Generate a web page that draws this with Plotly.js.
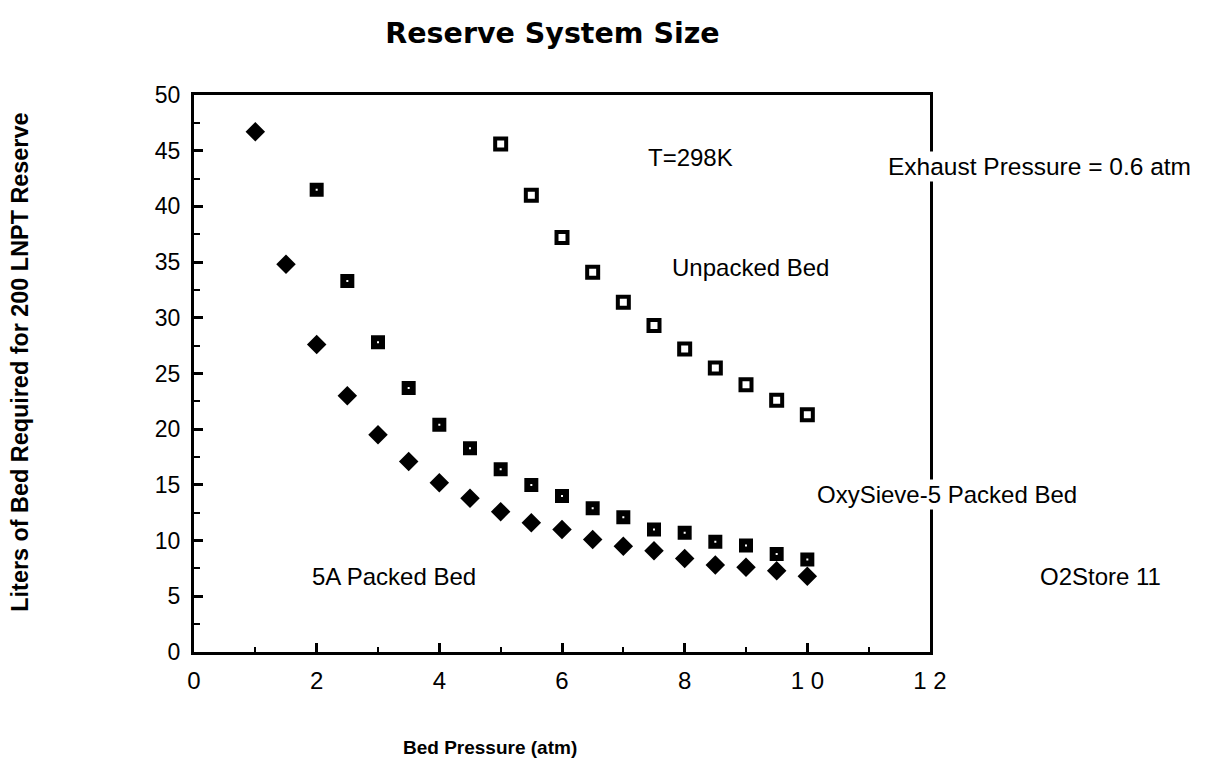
<!DOCTYPE html>
<html>
<head>
<meta charset="utf-8">
<script src="https://cdn.plot.ly/plotly-3.0.1.min.js"></script>
<style>
  html, body { margin: 0; padding: 0; background: #fff; }
  #chart { width: 1209px; height: 765px; }
</style>
</head>
<body>
<div id="chart"></div>
<script>
// ===== data =====
const pressure5A = [1, 1.5, 2, 2.5, 3, 3.5, 4, 4.5, 5, 5.5, 6, 6.5, 7, 7.5, 8, 8.5, 9, 9.5, 10];
const liters5A = [46.7, 34.8, 27.6, 23.0, 19.5, 17.1, 15.2, 13.8, 12.6, 11.6, 11.0, 10.1, 9.5, 9.1, 8.4, 7.8, 7.6, 7.3, 6.8];

const pressureOxy = [2, 2.5, 3, 3.5, 4, 4.5, 5, 5.5, 6, 6.5, 7, 7.5, 8, 8.5, 9, 9.5, 10];
const litersOxy = [41.5, 33.3, 27.8, 23.7, 20.4, 18.3, 16.4, 15.0, 14.0, 12.9, 12.1, 11.0, 10.7, 9.9, 9.55, 8.8, 8.3];

const pressureUnpacked = [5, 5.5, 6, 6.5, 7, 7.5, 8, 8.5, 9, 9.5, 10];
const litersUnpacked = [45.6, 41.0, 37.2, 34.1, 31.4, 29.3, 27.2, 25.5, 24.0, 22.6, 21.3];

const xTickVals = [0, 2, 4, 6, 8, 10, 12];
const xTickText = ["0", "2", "4", "6", "8", "1 0", "1 2"];

const FONT = "Liberation Sans, Arial, Helvetica, sans-serif";
const TITLE_FONT = "DejaVu Sans, Liberation Sans, sans-serif";

// ===== render =====
function render() {
  const traces = [
    { x: pressure5A, y: liters5A, type: "scatter", mode: "markers", name: "5A Packed Bed",
      marker: { symbol: "diamond", size: 15, color: "#000" } },
    { x: pressureOxy, y: litersOxy, type: "scatter", mode: "markers", name: "OxySieve-5 Packed Bed",
      marker: { symbol: "square-open", size: 8, color: "#000", line: { width: 6, color: "#000" } } },
    { x: pressureUnpacked, y: litersUnpacked, type: "scatter", mode: "markers", name: "Unpacked Bed",
      marker: { symbol: "square-open", size: 11, color: "#000", line: { width: 4, color: "#000" } } }
  ];

  // подписи внутри/рядом с графиком
  const note = (text, x, y, xref, yref, extra) => Object.assign({
    text, x, y, xref, yref, showarrow: false, xanchor: "center", yanchor: "middle",
    font: { family: FONT, size: 24, color: "#000" }
  }, extra || {});

  const layout = {
    width: 1209, height: 765,
    margin: { l: 194, r: 279, t: 95, b: 113 },
    paper_bgcolor: "#fff", plot_bgcolor: "#fff",
    showlegend: false,
    font: { family: FONT, color: "#000" },
    title: {
      text: "<b>Reserve System Size</b>",
      font: { family: TITLE_FONT, size: 28.5, color: "#000" },
      x: 0.457, xanchor: "center", y: 0.957, yanchor: "middle"
    },
    xaxis: {
      range: [0, 12], tickvals: xTickVals, ticktext: xTickText,
      showgrid: false, zeroline: false,
      showline: true, linewidth: 3, linecolor: "#000", mirror: true,
      ticks: "inside", ticklen: 9, tickwidth: 2.5, tickcolor: "#000",
      minor: { dtick: 1, ticks: "inside", ticklen: 5, tickwidth: 2, tickcolor: "#000" },
      tickfont: { family: FONT, size: 24, color: "#000" },
      ticklabelstandoff: 5
    },
    yaxis: {
      range: [0, 50], dtick: 5, tick0: 0,
      showgrid: false, zeroline: false,
      showline: true, linewidth: 3, linecolor: "#000", mirror: true,
      ticks: "inside", ticklen: 9, tickwidth: 2.5, tickcolor: "#000",
      minor: { dtick: 2.5, ticks: "inside", ticklen: 6, tickwidth: 2, tickcolor: "#000" },
      tickfont: { family: FONT, size: 23, color: "#000" },
      ticklabelstandoff: 6
    },
    annotations: [
      note("T=298K", 8.09, 44.4, "x", "y"),
      note("Unpacked Bed", 9.07, 34.5, "x", "y"),
      note("OxySieve-5 Packed Bed", 1.023, 0.282, "paper", "paper", { bgcolor: "#fff" }),
      note("5A Packed Bed", 3.26, 6.8, "x", "y"),
      note("Exhaust Pressure = 0.6 atm", 1.149, 0.871, "paper", "paper", { bgcolor: "#fff", font: { family: FONT, size: 24.5, color: "#000" } }),
      note("O2Store 11", 1.231, 0.135, "paper", "paper"),
      // заголовки осей — смещены, как в оригинале
      note("<b>Bed Pressure (atm)</b>", 0.402, -0.172, "paper", "paper",
        { font: { family: FONT, size: 19, color: "#000" } }),
      note("<b>Liters of Bed Required for 200 LNPT Reserve</b>", -0.236, 0.52, "paper", "paper",
        { textangle: -90, font: { family: FONT, size: 23.4, color: "#000" } })
    ]
  };

  Plotly.newPlot("chart", traces, layout, { displayModeBar: false, responsive: false });
}

document.addEventListener("DOMContentLoaded", render);
</script>
</body>
</html>
